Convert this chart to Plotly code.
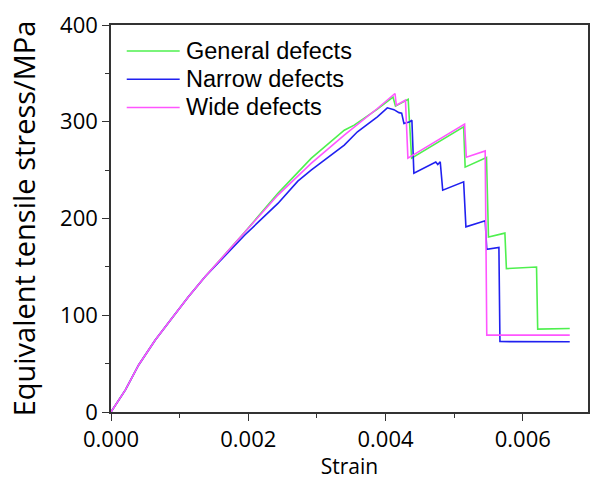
import plotly.graph_objects as go

# Strain values and equivalent tensile stress (MPa)
general_strain = [0, 0.00021, 0.000403, 0.000645, 0.000887, 0.001128, 0.00137, 0.001612, 0.001852,
                  0.00195, 0.002432, 0.002916, 0.003399, 0.003543, 0.003881, 0.004109, 0.004145,
                  0.00433, 0.00438, 0.005138, 0.00516, 0.005471, 0.0055, 0.005739, 0.005761,
                  0.0062, 0.006217, 0.006684]
general_stress = [0, 22.9, 48.6, 74.4, 96.8, 119.1, 139.8, 158.8, 177.7,
                  186.0, 226.0, 262.1, 291.3, 296.5, 313.0, 325.4, 316.1,
                  323.3, 262.4, 294.7, 253.1, 263.1, 180.8, 184.9, 148.2,
                  149.8, 85.7, 86.3]

narrow_strain = [0, 0.00021, 0.000403, 0.000645, 0.000887, 0.001128, 0.00137, 0.001612, 0.001852,
                 0.00195, 0.002432, 0.002722, 0.002916, 0.003206, 0.003399, 0.003591, 0.003881,
                 0.004026, 0.004123, 0.004196, 0.004235, 0.004268, 0.004355, 0.004384,
                 0.004413, 0.004732, 0.004761, 0.004797, 0.004833, 0.005138, 0.005171, 0.005452,
                 0.005475, 0.005652, 0.005667, 0.006684]
narrow_stress = [0, 22.9, 48.6, 74.4, 96.8, 119.1, 139.8, 158.0, 175.5,
                 183.0, 215.6, 238.6, 250.0, 265.5, 275.8, 289.6, 305.1,
                 314.4, 312.5, 309.4, 308.9, 298.2, 300.1, 301.6,
                 246.9, 258.3, 255.7, 258.6, 229.3, 237.9, 191.4, 197.6,
                 168.1, 170.1, 72.8, 72.6]

wide_strain = [0, 0.00021, 0.000403, 0.000645, 0.000887, 0.001128, 0.00137, 0.001612, 0.001852,
               0.00195, 0.002432, 0.002916, 0.003399, 0.003881, 0.004138, 0.004157, 0.00429,
               0.004326, 0.005152, 0.005177, 0.005452, 0.005475, 0.006684]
wide_stress = [0, 22.9, 48.6, 74.4, 96.8, 119.1, 139.8, 158.8, 177.7,
               186.0, 224.2, 257.0, 286.2, 313.7, 329.2, 317.1, 322.3,
               262.4, 297.5, 263.4, 269.9, 79.5, 79.5]

series_names = ["General defects", "Narrow defects", "Wide defects"]
series_colors = ["#4ef04e", "#2020f0", "#ff55ff"]

x_ticks = [0.000, 0.002, 0.004, 0.006]
y_ticks = [0, 100, 200, 300, 400]

fig = go.Figure()
for name, xs, ys, col in zip(series_names,
                             [general_strain, narrow_strain, wide_strain],
                             [general_stress, narrow_stress, wide_stress],
                             series_colors):
    fig.add_trace(go.Scatter(x=xs, y=ys, mode="lines", name=name,
                             line=dict(color=col, width=1.6), showlegend=False))

# Manual legend (line samples + text) to match the reference look
legend_y = [0.933, 0.86, 0.787]
for name, col, ly in zip(series_names, series_colors, legend_y):
    fig.add_shape(type="line", xref="paper", yref="paper", x0=0.033, x1=0.144, y0=ly, y1=ly,
                  line=dict(color=col, width=1.6))
    fig.add_annotation(xref="paper", yref="paper", x=0.154, y=ly, text=name, showarrow=False,
                       xanchor="left", yanchor="middle",
                       font=dict(family="Arial, Liberation Sans", size=23.5, color="black"))

axis_common = dict(showline=True, linecolor="#333", linewidth=1.5, mirror=True,
                   ticks="outside", ticklen=7, tickwidth=1.3, tickcolor="#333",
                   showgrid=False, zeroline=False,
                   tickfont=dict(family="Open Sans", size=22, color="black"))

fig.update_xaxes(range=[0, 0.00695], tickvals=x_ticks, tickformat=".3f",
                 minor=dict(dtick=0.001, tick0=0, ticks="outside", ticklen=4, tickcolor="#333"),
                 title=dict(text="Strain", font=dict(family="Open Sans", size=21, color="black"),
                            standoff=8),
                 **axis_common)
fig.update_yaxes(range=[0, 400], tickvals=y_ticks,
                 minor=dict(dtick=50, tick0=0, ticks="outside", ticklen=4, tickcolor="#333"),
                 title=dict(text="Equivalent tensile stress/MPa",
                            font=dict(family="Open Sans", size=29, color="black"), standoff=16),
                 **axis_common)

fig.update_layout(width=592, height=480, margin=dict(l=111, r=2, t=25, b=68),
                  plot_bgcolor="white", paper_bgcolor="white")

fig.write_html("out.html")
